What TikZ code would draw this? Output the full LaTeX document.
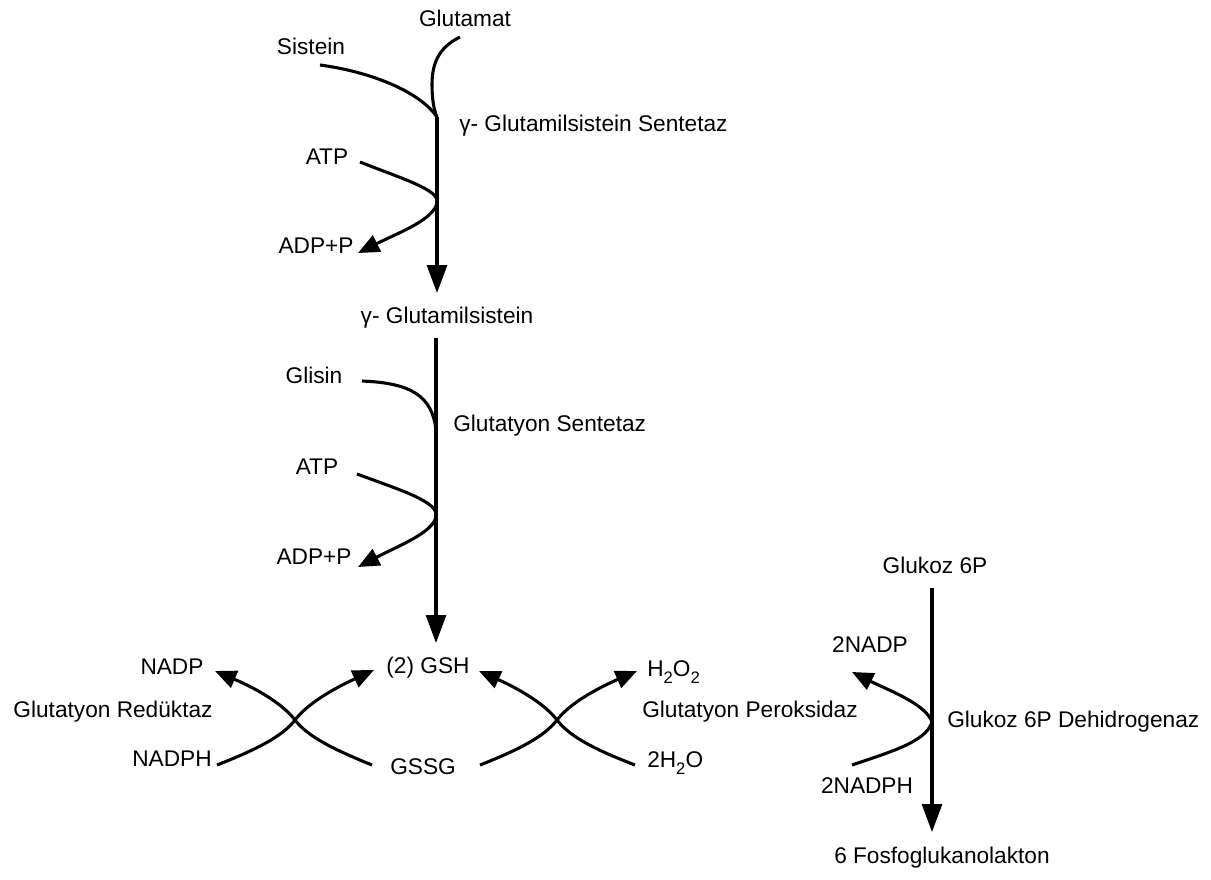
\documentclass[tikz,border=0pt]{standalone}
\usepackage{fontspec}
\setmainfont{Liberation Sans}
\usetikzlibrary{arrows.meta}
\newcommand\subs[1]{\raisebox{-5.5pt}{\fontsize{12.5}{13}\selectfont #1}}
\begin{document}
\begin{tikzpicture}[x=0.75pt,y=-0.75pt,
  lbl/.style={inner sep=0pt, font=\fontsize{17}{20}\selectfont},
  rxn/.style={line width=2.3pt},
  big/.style={rxn, -{Triangle[length=21pt,width=15pt]}},
  small/.style={rxn, -{Triangle[length=16pt,width=13.5pt]}}]
\useasboundingbox (0,0) rectangle (1211,879);

% ---------- labels ----------
\node[lbl] (glutamat) at (465,18) {Glutamat};
\node[lbl] (sistein) at (311,46) {Sistein};
\node[lbl,anchor=west] (gcsenz) at (459,126) {γ- Glutamilsistein Sentetaz};
\node[lbl] (atp1) at (327,157) {ATP};
\node[lbl] (adp1) at (316,246) {ADP+P};
\node[lbl] (gcys) at (447,318) {γ- Glutamilsistein};
\node[lbl] (glisin) at (314,375) {Glisin};
\node[lbl,anchor=west] (gsenz) at (453,426) {Glutatyon Sentetaz};
\node[lbl] (atp2) at (317,467) {ATP};
\node[lbl] (adp2) at (314,557) {ADP+P};
\node[lbl] (gsh) at (428,668) {(2) GSH};
\node[lbl] (gssg) at (423,767) {GSSG};
\node[lbl] (nadp) at (172,667) {NADP};
\node[lbl] (gred) at (113,712) {Glutatyon Redüktaz};
\node[lbl] (nadph) at (172,759) {NADPH};
\node[lbl,anchor=base west] (h2o2) at (647,676) {H\subs{2}O\subs{2}};
\node[lbl] (gperox) at (750,712) {Glutatyon Peroksidaz};
\node[lbl,anchor=base west] (h2o) at (647,767) {2H\subs{2}O};
\node[lbl] (g6p) at (935,565) {Glukoz 6P};
\node[lbl] (nadp2) at (870,645) {2NADP};
\node[lbl,anchor=west] (g6pd) at (947,722) {Glukoz 6P Dehidrogenaz};
\node[lbl] (nadph2) at (867,786) {2NADPH};
\node[lbl] (fosfo) at (942,858) {6 Fosfoglukanolakton};

% ---------- connector points ----------
\coordinate (gluS) at (460,37);
\coordinate (sisS) at (320,65);
\coordinate (j1) at (437,117);
\coordinate (t1) at (437,293);
\coordinate (atp1S) at (360,162);
\coordinate (j2) at (437,203);
\coordinate (adp1T) at (358,253);
\coordinate (s2) at (436,338);
\coordinate (t2) at (436,643);
\coordinate (glisS) at (362,381);
\coordinate (j3) at (436,430);
\coordinate (atp2S) at (357,474);
\coordinate (j4) at (436,517);
\coordinate (adp2T) at (358,567);
\coordinate (xL) at (295,720);
\coordinate (nadphS) at (217,765);
\coordinate (nadpT) at (215,671);
\coordinate (gssgL) at (372,765);
\coordinate (gshL) at (374,670);
\coordinate (xR) at (557,720);
\coordinate (gssgR) at (480,765);
\coordinate (gshR) at (479,671);
\coordinate (h2oS) at (635,765);
\coordinate (h2o2T) at (637,671);
\coordinate (s3) at (932,588);
\coordinate (t3) at (932,832);
\coordinate (j5) at (932,722);
\coordinate (nadph2S) at (852,765);
\coordinate (nadp2T) at (852,672);

% ---------- first reaction ----------
\draw[rxn] (gluS) .. controls (438,48) and (432,64) .. (432,85)
  .. controls (432,100) and (434,110) .. (j1);
\draw[rxn] (sisS) .. controls (372,72) and (420,92) .. (j1);
\draw[big] (j1) -- (t1);
\draw[small] (atp1S) .. controls (400,178) and (441,190) .. (j2)
  .. controls (433,220) and (400,232) .. (adp1T);

% ---------- second reaction ----------
\draw[big] (s2) -- (t2);
\draw[rxn] (glisS) .. controls (410,383) and (432,395) .. (j3);
\draw[small] (atp2S) .. controls (400,490) and (440,502) .. (j4)
  .. controls (432,533) and (400,545) .. (adp2T);

% ---------- glutathione reductase ----------
\draw[small] (gssgL) .. controls (335,750) and (308,737) .. (xL)
  .. controls (282,703) and (255,688) .. (nadpT);
\draw[small] (nadphS) .. controls (255,750) and (282,737) .. (xL)
  .. controls (308,703) and (335,688) .. (gshL);

% ---------- glutathione peroxidase ----------
\draw[small] (gssgR) .. controls (518,750) and (544,737) .. (xR)
  .. controls (570,703) and (598,688) .. (h2o2T);
\draw[small] (h2oS) .. controls (596,750) and (570,737) .. (xR)
  .. controls (544,703) and (517,688) .. (gshR);

% ---------- glucose 6P dehydrogenase ----------
\draw[big] (s3) -- (t3);
\draw[small] (nadph2S) .. controls (890,752) and (926,742) .. (j5)
  .. controls (926,704) and (888,690) .. (nadp2T);
\end{tikzpicture}
\end{document}
